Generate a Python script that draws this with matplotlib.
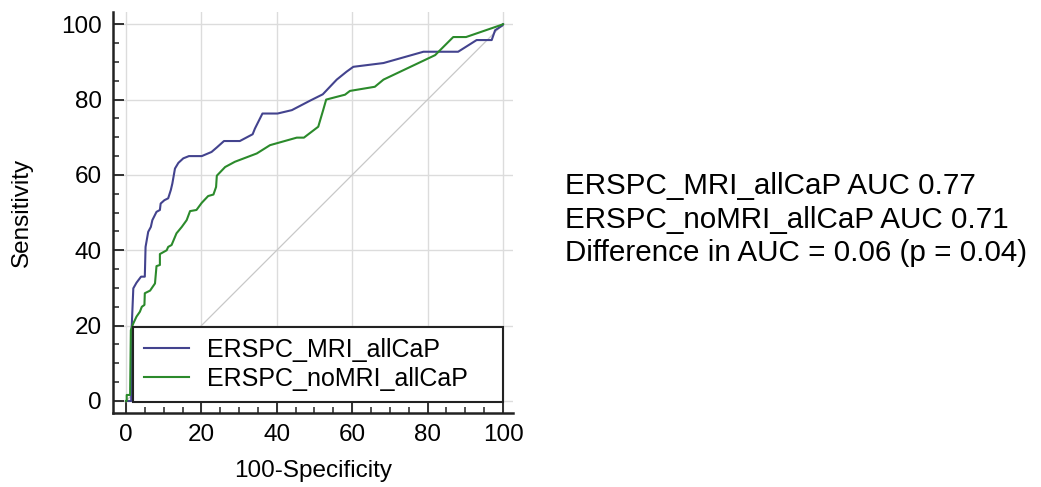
import matplotlib
matplotlib.use("Agg")
import matplotlib.pyplot as plt
from matplotlib.ticker import MultipleLocator

plt.rcParams['font.family'] = ['Liberation Sans', 'DejaVu Sans']

# ROC curve points (100-Specificity, Sensitivity)
mri_x = [0, 1.4, 1.5, 1.95, 2.8, 4.0, 5.0, 5.2, 5.9, 6.6, 7.0, 8.1, 9.0, 9.2,
         10.2, 11.2, 11.9, 12.3, 13.0, 13.9, 15.2, 16.7, 20.1, 22.7, 24.1,
         26.0, 30.2, 33.6, 34.2, 36.2, 40.2, 44.0, 48.8, 52.2, 55.9, 58.5,
         60.3, 68.3, 78.9, 88.1, 93.0, 97.0, 97.9, 99.9, 100]
mri_y = [0, 0, 19, 29.9, 31.4, 33.0, 33.0, 40.9, 44.9, 46.2, 48.0, 50.2, 50.7,
         52.4, 53.3, 53.8, 56.0, 57.7, 61.7, 63.2, 64.4, 65.0, 65.0, 66.1,
         67.3, 69.0, 69.0, 70.8, 72.3, 76.3, 76.3, 77.2, 79.7, 81.4, 85.3,
         87.4, 88.7, 89.7, 92.7, 92.7, 95.8, 95.8, 98.4, 99.7, 100]

nomri_x = [0, 0.2, 0.2, 1.1, 1.3, 1.95, 2.8, 3.7, 4.2, 4.9, 5.0, 6.4, 7.7, 8.1,
           9.0, 9.0, 10.8, 11.2, 12.1, 13.4, 14.8, 16.1, 17.0, 18.7, 20.1,
           21.8, 23.2, 23.9, 24.1, 26.3, 28.9, 34.7, 38.2, 45.3, 47.2, 51.0,
           52.3, 53.1, 58.1, 59.4, 66.0, 68.3, 82.0, 86.8, 90.2, 99.2, 100]
nomri_y = [0, 0, 1.6, 1.6, 18.8, 20.6, 22.4, 23.7, 25.0, 25.5, 28.6, 29.3,
           31.2, 35.8, 36.1, 39.0, 40.0, 40.9, 41.4, 44.5, 46.2, 48.0, 50.4,
           50.7, 52.6, 54.4, 54.8, 56.8, 59.8, 62.1, 63.5, 65.7, 67.9, 69.9,
           69.9, 72.8, 77.2, 80.0, 81.3, 82.3, 83.4, 85.3, 91.8, 96.6, 96.6,
           99.7, 100]

labels = ['ERSPC_MRI_allCaP', 'ERSPC_noMRI_allCaP']
colors = ['#43438e', '#2b8a2b']
summary = ['ERSPC_MRI_allCaP AUC 0.77',
           'ERSPC_noMRI_allCaP AUC 0.71',
           'Difference in AUC = 0.06 (p = 0.04)']

fig = plt.figure(figsize=(10.41, 4.87), dpi=100)
ax = fig.add_axes([0.1085, 0.152, 0.3843, 0.823])

ax.plot([0, 100], [0, 100], color='#c8c8c8', lw=0.9, zorder=1)
ax.plot(mri_x, mri_y, color=colors[0], lw=1.5, label=labels[0], zorder=3)
ax.plot(nomri_x, nomri_y, color=colors[1], lw=1.5, label=labels[1], zorder=3)

ax.set_xlim(-3.45, 102.65)
ax.set_ylim(-3.18, 103.2)
ax.xaxis.set_major_locator(MultipleLocator(20))
ax.yaxis.set_major_locator(MultipleLocator(20))
ax.xaxis.set_minor_locator(MultipleLocator(5))
ax.yaxis.set_minor_locator(MultipleLocator(5))
ax.grid(True, which='major', color='#dcdcdc', lw=1.0, zorder=0)
ax.set_axisbelow(True)

for s in ['top', 'right']:
    ax.spines[s].set_visible(False)
for s in ['left', 'bottom']:
    ax.spines[s].set_linewidth(1.8)
    ax.spines[s].set_color('#222222')

ax.tick_params(which='major', direction='in', length=8, width=1.3,
               labelsize=17.5, pad=8, color='#222222')
ax.tick_params(which='minor', direction='in', length=4.5, width=1.1,
               color='#222222')

ax.set_xlabel('100-Specificity', fontsize=17.5, labelpad=10)
ax.set_ylabel('Sensitivity', fontsize=17.5, labelpad=20)

leg = ax.legend(loc='lower left', bbox_to_anchor=(1.9, -0.3, 98.1, 19.7),
                bbox_transform=ax.transData, mode='expand', borderaxespad=0,
                fontsize=18, fancybox=False, framealpha=1,
                edgecolor='#222222', handlelength=1.8, handletextpad=0.7,
                borderpad=0.45, labelspacing=0.2)
leg.get_frame().set_linewidth(1.5)
for line in leg.get_lines():
    line.set_linewidth(1.5)

ys = [0.6016, 0.5318, 0.4641]
for txt, y in zip(summary, ys):
    fig.text(0.5428, y, txt, fontsize=21.3, va='baseline', ha='left')

fig.savefig('out.png', dpi=100)
